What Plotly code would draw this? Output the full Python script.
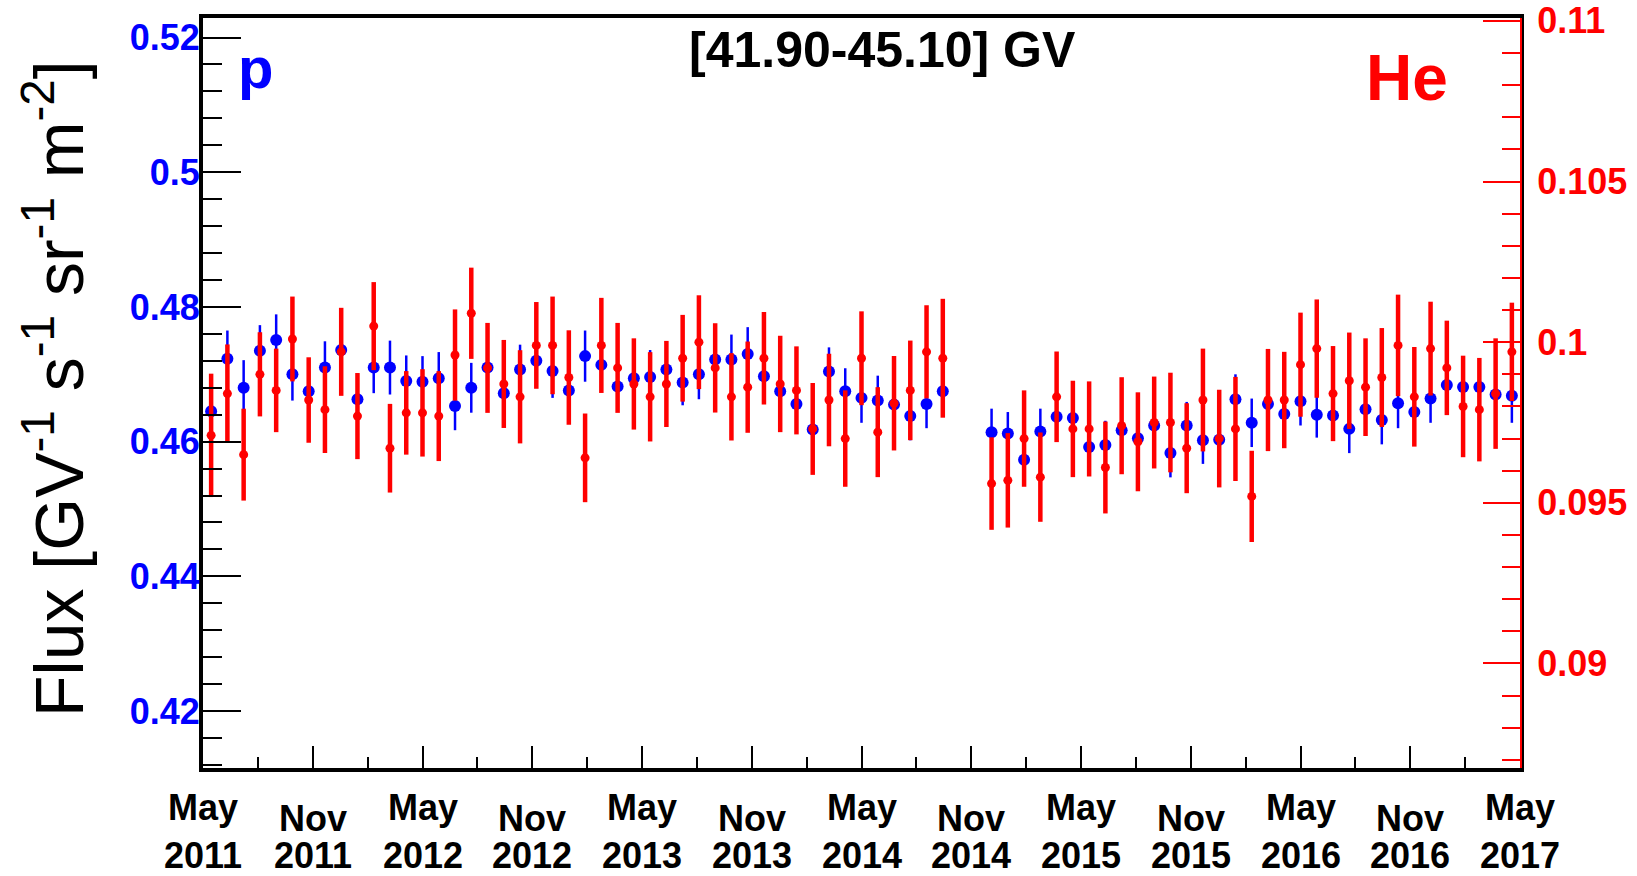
import datetime as dt
import plotly.graph_objects as go

# ---------------- data ----------------
bartels = [2426, 2427, 2428, 2429, 2430, 2431, 2432, 2433, 2434, 2435,
           2436, 2437, 2438, 2439, 2440, 2441, 2442, 2443, 2444, 2445,
           2446, 2447, 2448, 2449, 2450, 2451, 2452, 2453, 2454, 2455,
           2456, 2457, 2458, 2459, 2460, 2461, 2462, 2463, 2464, 2465,
           2466, 2467, 2468, 2469, 2470, 2471,
           2474, 2475, 2476, 2477, 2478, 2479, 2480, 2481, 2482, 2483,
           2484, 2485, 2486, 2487, 2488, 2489, 2490, 2491, 2492, 2493,
           2494, 2495, 2496, 2497, 2498, 2499, 2500, 2501, 2502, 2503,
           2504, 2505, 2506]

p_flux = [0.4645, 0.4723, 0.4680, 0.4735, 0.4751, 0.4700, 0.4675, 0.4710, 0.4736, 0.4663,
          0.4710, 0.4710, 0.4690, 0.4689, 0.4694, 0.4653, 0.4680, 0.4710, 0.4672, 0.4707,
          0.4720, 0.4705, 0.4676, 0.4727, 0.4714, 0.4682, 0.4694, 0.4696, 0.4707, 0.4688,
          0.4700, 0.4722, 0.4722, 0.4730, 0.4697, 0.4675, 0.4656, 0.4618, 0.4704, 0.4675,
          0.4665, 0.4661, 0.4655, 0.4638, 0.4656, 0.4675,
          0.4614, 0.4612, 0.4573, 0.4615, 0.4637, 0.4635, 0.4592, 0.4595, 0.4617, 0.4605,
          0.4624, 0.4583, 0.4624, 0.4602, 0.4603, 0.4663, 0.4628, 0.4656, 0.4641, 0.4660,
          0.4640, 0.4639, 0.4619, 0.4648, 0.4632, 0.4657, 0.4644, 0.4664, 0.4684, 0.4681,
          0.4681, 0.4670, 0.4668]

p_err = [0.0038, 0.0042, 0.0041, 0.0038, 0.0038, 0.0039, 0.0038, 0.0039, 0.0038, 0.0038,
         0.0038, 0.0040, 0.0038, 0.0038, 0.0039, 0.0036, 0.0037, 0.0037, 0.0037, 0.0037,
         0.0037, 0.0040, 0.0037, 0.0038, 0.0037, 0.0037, 0.0037, 0.0040, 0.0037, 0.0034,
         0.0037, 0.0037, 0.0037, 0.0040, 0.0037, 0.0037, 0.0037, 0.0037, 0.0036, 0.0034,
         0.0037, 0.0037, 0.0036, 0.0036, 0.0036, 0.0036,
         0.0035, 0.0032, 0.0036, 0.0034, 0.0036, 0.0036, 0.0036, 0.0036, 0.0036, 0.0036,
         0.0036, 0.0036, 0.0035, 0.0035, 0.0036, 0.0037, 0.0036, 0.0036, 0.0036, 0.0036,
         0.0034, 0.0036, 0.0036, 0.0036, 0.0036, 0.0037, 0.0036, 0.0036, 0.0036, 0.0036,
         0.0036, 0.0036, 0.0040]

he_flux = [0.0971, 0.0984, 0.0965, 0.0990, 0.0985, 0.1001, 0.0982, 0.0979, 0.0997, 0.0977,
           0.1005, 0.0967, 0.0978, 0.0978, 0.0977, 0.0996, 0.1009, 0.0992, 0.0987, 0.0983,
           0.0999, 0.0999, 0.0989, 0.0964, 0.0999, 0.0992, 0.0987, 0.0983, 0.0987, 0.0995,
           0.1000, 0.0992, 0.0983, 0.0986, 0.0995, 0.0987, 0.0985, 0.0973, 0.0982, 0.0970,
           0.0995, 0.0972, 0.0981, 0.0985, 0.0997, 0.0995,
           0.0956, 0.0957, 0.0970, 0.0958, 0.0983, 0.0973, 0.0973, 0.0961, 0.0974, 0.0969,
           0.0975, 0.0975, 0.0967, 0.0982, 0.0970, 0.0973, 0.0952, 0.0982, 0.0982, 0.0993,
           0.0998, 0.0984, 0.0988, 0.0986, 0.0989, 0.0999, 0.0983, 0.0998, 0.0992, 0.0980,
           0.0979, 0.0984, 0.0997]

he_err = [0.00192, 0.00153, 0.00143, 0.00131, 0.00130, 0.00132, 0.00133, 0.00135, 0.00137, 0.00134,
          0.00137, 0.00138, 0.00130, 0.00136, 0.00140, 0.00142, 0.00142, 0.00140, 0.00137, 0.00145,
          0.00135, 0.00152, 0.00147, 0.00138, 0.00148, 0.00140, 0.00142, 0.00139, 0.00134, 0.00135,
          0.00146, 0.00139, 0.00136, 0.00142, 0.00144, 0.00150, 0.00137, 0.00143, 0.00144, 0.00150,
          0.00146, 0.00140, 0.00147, 0.00155, 0.00145, 0.00185,
          0.00144, 0.00147, 0.00150, 0.00139, 0.00141, 0.00150, 0.00148, 0.00143, 0.00151, 0.00154,
          0.00143, 0.00155, 0.00140, 0.00160, 0.00152, 0.00162, 0.00142, 0.00159, 0.00150, 0.00162,
          0.00153, 0.00148, 0.00150, 0.00152, 0.00154, 0.00158, 0.00155, 0.00146, 0.00147, 0.00158,
          0.00161, 0.00172, 0.00153]

x_tick_months = ["May", "Nov", "May", "Nov", "May", "Nov", "May",
                 "Nov", "May", "Nov", "May", "Nov", "May"]
x_tick_years = ["2011", "2011", "2012", "2012", "2013", "2013", "2014",
                "2014", "2015", "2015", "2016", "2016", "2017"]
p_tick_vals = [0.42, 0.44, 0.46, 0.48, 0.50, 0.52]
p_tick_text = ["0.42", "0.44", "0.46", "0.48", "0.5", "0.52"]
he_tick_vals = [0.09, 0.095, 0.10, 0.105, 0.11]
he_tick_text = ["0.09", "0.095", "0.1", "0.105", "0.11"]

p_range = [0.41155, 0.5229]
he_range = [0.086747, 0.11009]

# ---------------- time axis from Bartels rotations ----------------
BR_FIRST = 2426
BR_LAST = 2506
BR_DAYS = 27
BR_FIRST_START = dt.datetime(2011, 5, 15)


def br_mid(n):
    return BR_FIRST_START + dt.timedelta(days=(n - BR_FIRST) * BR_DAYS + BR_DAYS / 2)


x_dates = [br_mid(n) for n in bartels]
x_start = BR_FIRST_START
x_end = BR_FIRST_START + dt.timedelta(days=(BR_LAST - BR_FIRST + 1) * BR_DAYS)
n_div = len(x_tick_months) - 1
step = (x_end - x_start) / n_div
x_major = [x_start + step * i for i in range(n_div + 1)]
x_minor = [x_start + step * (i + 0.5) for i in range(n_div)]

p_minor = [round(0.412 + 0.004 * i, 4) for i in range(28)]
he_minor = [round(0.087 + 0.001 * i, 4) for i in range(24)]

# ---------------- geometry ----------------
W, H = 1637, 876
L, R, T, B = 203, 117, 18, 108
PW = W - L - R
PH = H - T - B


def px(xp):
    return (xp - L) / PW


def py(yp):
    return (H - B - yp) / PH


FONT = "Liberation Sans, Arial, Helvetica, sans-serif"
BLUE = "#0000ff"
RED = "#ff0000"

fig = go.Figure()
fig.add_trace(go.Scatter(
    x=x_dates, y=p_flux, mode="markers", yaxis="y",
    marker=dict(color=BLUE, size=12),
    error_y=dict(type="data", array=p_err, visible=True, color=BLUE, thickness=2.5, width=0),
    name="p", showlegend=False))
fig.add_trace(go.Scatter(
    x=x_dates, y=he_flux, mode="markers", yaxis="y2",
    marker=dict(color=RED, size=9),
    error_y=dict(type="data", array=he_err, visible=True, color=RED, thickness=4.5, width=0),
    name="He", showlegend=False))

annotations = [
    dict(text="Flux [GV<sup>-1</sup> s<sup>-1</sup> sr<sup>-1</sup> m<sup>-2</sup>]",
         textangle=-90, xref="paper", yref="paper", x=px(54), y=py(389),
         xanchor="center", yanchor="middle", showarrow=False,
         font=dict(family=FONT, size=68, color="black")),
    dict(text="<b>[41.90-45.10] GV</b>", xref="paper", yref="paper",
         x=px(882), y=py(50), xanchor="center", yanchor="middle", showarrow=False,
         font=dict(family=FONT, size=50, color="black")),
    dict(text="<b>p</b>", xref="paper", yref="paper",
         x=px(255), y=py(68), xanchor="center", yanchor="middle", showarrow=False,
         font=dict(family=FONT, size=58, color=BLUE)),
    dict(text="<b>He</b>", xref="paper", yref="paper",
         x=px(1407), y=py(78), xanchor="center", yanchor="middle", showarrow=False,
         font=dict(family=FONT, size=64, color=RED)),
]
# time-axis labels (month on first line, year on second)
for xv, mon, yr in zip(x_major, x_tick_months, x_tick_years):
    mon_y = 808 if mon == "May" else 818
    annotations.append(dict(text="<b>%s</b>" % mon, xref="x", yref="paper",
                            x=xv.isoformat(), y=py(mon_y), xanchor="center", yanchor="middle",
                            showarrow=False, font=dict(family=FONT, size=36, color="black")))
    annotations.append(dict(text="<b>%s</b>" % yr, xref="x", yref="paper",
                            x=xv.isoformat(), y=py(855), xanchor="center", yanchor="middle",
                            showarrow=False, font=dict(family=FONT, size=36, color="black")))

fig.update_layout(
    width=W, height=H, autosize=False,
    margin=dict(l=L, r=R, t=T, b=B, pad=0),
    plot_bgcolor="white", paper_bgcolor="white",
    font=dict(family=FONT),
    xaxis=dict(
        type="date", range=[x_start, x_end], showgrid=False, zeroline=False,
        automargin=False,
        showline=True, linecolor="black", linewidth=4, mirror=True,
        ticks="inside", ticklen=22, tickwidth=2, tickcolor="black",
        tickmode="array", tickvals=x_major, showticklabels=False,
        minor=dict(tickmode="array", tickvals=x_minor, ticks="inside", ticklen=11,
                   tickwidth=2, tickcolor="black", showgrid=False),
    ),
    yaxis=dict(
        range=p_range, showgrid=False, zeroline=False, automargin=False,
        showline=True, linecolor="black", linewidth=4, mirror=True,
        ticks="inside", ticklen=38, tickwidth=2, tickcolor="black",
        tickmode="array", tickvals=p_tick_vals, ticktext=p_tick_text,
        tickfont=dict(family=FONT, size=36, color=BLUE, weight="bold"),
        ticklabelstandoff=-8,
        minor=dict(tickmode="array", tickvals=p_minor, ticks="inside", ticklen=19,
                   tickwidth=2, tickcolor="black", showgrid=False),
    ),
    yaxis2=dict(
        range=he_range, overlaying="y", side="right", showgrid=False, zeroline=False,
        automargin=False,
        showline=True, linecolor=RED, linewidth=2,
        ticks="inside", ticklen=37, tickwidth=2, tickcolor=RED,
        tickmode="array", tickvals=he_tick_vals, ticktext=he_tick_text,
        tickfont=dict(family=FONT, size=36, color=RED, weight="bold"),
        ticklabelstandoff=8,
        minor=dict(tickmode="array", tickvals=he_minor, ticks="inside", ticklen=18,
                   tickwidth=2, tickcolor=RED, showgrid=False),
    ),
    annotations=annotations,
)

fig.write_html("out.html")
